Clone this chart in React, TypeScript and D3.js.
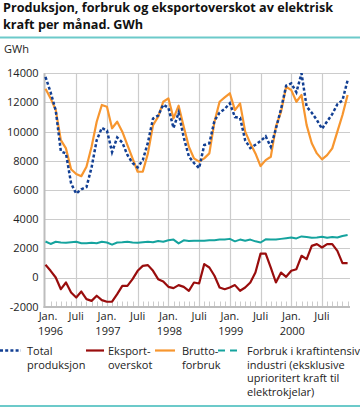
import React from "react";
import * as d3 from "d3";

const years = ["1996", "1997", "1998", "1999", "2000"];
const xLabels = ["Jan.", "Juli"];
const yTicks = [-2000, 0, 2000, 4000, 6000, 8000, 10000, 12000, 14000];

const totalProduksjon = [
  13750, 12700, 11450, 8650, 8500, 6450, 5750, 6050, 6200, 7550, 9420, 10250,
  10080, 8600, 9600, 9250, 8400, 7850, 7550, 8050, 9250, 10900, 11100, 11850,
  11640, 10250, 11300, 9600, 8300, 7850, 7500, 9080, 9200, 10750, 11300, 11560,
  11940, 11000, 10950, 9400, 8870, 9100, 9350, 9680, 8960, 10200, 11550, 13150,
  13310, 12700, 14000, 11710, 11300, 10800, 10200, 10700, 11200, 11880, 12150, 13520,
];

const eksportoverskot = [
  870, 460, 0, -800, -340, -1030, -1370, -960, -1480, -1600, -1250, -1550,
  -1660, -1660, -1140, -570, -570, -110, 460, 800, 850, 460, -110, -270,
  -640, -730, -520, -640, -910, -340, -410, 920, 685, 120, -685, -800,
  -685, -520, -910, -685, -340, 340, 1640, 1640, 685, -340, 340, 50,
  460, 570, 1490, 1260, 2170, 2290, 2060, 2290, 2290, 1830, 990, 990,
];

const bruttoforbruk = [
  12940, 12280, 11480, 9420, 8850, 7420, 7100, 6950, 7590, 8960, 10680, 11830,
  11710, 10230, 10680, 10000, 9080, 8170, 7250, 7250, 8510, 10450, 11020, 12050,
  12280, 10910, 11780, 10340, 8960, 8170, 7940, 8170, 8510, 10680, 12050, 12350,
  12630, 11480, 11940, 10000, 9200, 8510, 7640, 8050, 8280, 10340, 11370, 13080,
  12850, 12050, 12510, 10450, 9200, 8510, 8100, 8390, 8850, 10000, 11140, 12510,
];

const kraftintensiv = [
  2470, 2300, 2450, 2400, 2380, 2420, 2450, 2350, 2350, 2380, 2350, 2450,
  2400, 2250, 2400, 2420, 2450, 2400, 2380, 2420, 2450, 2420, 2500, 2450,
  2550, 2600, 2340, 2550, 2500, 2520, 2520, 2520, 2550, 2560, 2600, 2600,
  2650, 2480, 2600, 2520, 2600, 2480, 2400, 2620, 2600, 2600, 2650, 2700,
  2750, 2680, 2820, 2780, 2720, 2750, 2800, 2720, 2780, 2740, 2850, 2920,
];

const legendLabels = [
  ["Total", "produksjon"],
  ["Eksport-", "overskot"],
  ["Brutto-", "forbruk"],
  ["Forbruk i kraftintensiv", "industri (eksklusive", "uprioritert kraft til", "elektrokjelar)"],
];

const COLORS = {
  blue: "#123f93",
  red: "#990d0d",
  orange: "#f7962f",
  teal: "#15a39e",
  rule: "#6ccaca",
  grid: "#cccccc",
  axis: "#bdbdbd",
  text: "#222222",
};

const FONT = "'Open Sans', 'DejaVu Sans', sans-serif";
const TITLE_FONT = "'Liberation Sans Narrow', 'Open Sans', sans-serif";

export default function App() {
  const W = 360;
  const H = 409;
  const x = d3.scaleLinear().domain([0, 59]).range([45.5, 347.6]);
  const y = d3.scaleLinear().domain([-2000, 14000]).range([306.7, 73.3]);
  const xRight = 350;
  const months = d3.range(60);

  const line = d3
    .line<number>()
    .x((_, i) => x(i))
    .y((d) => y(d))
    .curve(d3.curveLinear);

  const majors = months.filter((m) => m % 6 === 0);
  const minors = months.filter((m) => m % 6 !== 0);

  const legendX = [
    { sx: 0, ex: 21, tx: 27 },
    { sx: 86, ex: 104, tx: 108 },
    { sx: 155, ex: 175, tx: 182 },
    { sx: 218, ex: 238, tx: 247 },
  ];
  const legendStyles = [
    { stroke: COLORS.blue, dash: "3,2.2", width: 2.5 },
    { stroke: COLORS.red, dash: undefined, width: 2.2 },
    { stroke: COLORS.orange, dash: undefined, width: 2.2 },
    { stroke: COLORS.teal, dash: "7,5", width: 2.2 },
  ];

  return (
    <svg width={W} height={H} style={{ position: "absolute", left: 0, top: 0 }} fontFamily={FONT}>
      <rect x={0} y={0} width={W} height={H} fill="#fff" />
      {/* title */}
      <text x={3} y={12} fontSize={12.5} fontWeight="bold" fill="#111" fontFamily={TITLE_FONT} textLength={330} lengthAdjust="spacingAndGlyphs">
        Produksjon, forbruk og eksportoverskot av elektrisk
      </text>
      <text x={3} y={28.5} fontSize={12.5} fontWeight="bold" fill="#111" fontFamily={TITLE_FONT} textLength={140} lengthAdjust="spacingAndGlyphs">
        kraft per månad. GWh
      </text>
      <rect x={0} y={36.5} width={W} height={2} fill={COLORS.rule} />
      <text x={4} y={53} fontSize={11} fill={COLORS.text}>GWh</text>

      {/* horizontal grid */}
      {yTicks.map((t) =>
        t === -2000 ? null : (
          <line key={"h" + t} x1={44} x2={xRight} y1={Math.round(y(t)) + 0.5} y2={Math.round(y(t)) + 0.5} stroke={COLORS.grid} strokeWidth={1.2} />
        )
      )}
      {/* vertical grid */}
      {majors.filter((m) => m > 0).map((m) => (
        <line key={"v" + m} x1={Math.round(x(m)) + 0.5} x2={Math.round(x(m)) + 0.5} y1={73} y2={307} stroke={COLORS.grid} strokeWidth={1.2} />
      ))}
      {/* minor ticks */}
      {minors.map((m) => (
        <line key={"t" + m} x1={Math.round(x(m)) + 0.5} x2={Math.round(x(m)) + 0.5} y1={301.5} y2={307} stroke={COLORS.grid} strokeWidth={1} />
      ))}
      {/* axes */}
      <line x1={44.5} x2={44.5} y1={73} y2={308} stroke={COLORS.axis} strokeWidth={2} />
      <line x1={43.5} x2={xRight} y1={307} y2={307} stroke={COLORS.axis} strokeWidth={2} />

      {/* y tick labels */}
      {yTicks.map((t) => (
        <text key={"yl" + t} x={38.5} y={y(t)} dy="0.36em" textAnchor="end" fontSize={11} fill={COLORS.text}>
          {t}
        </text>
      ))}
      {/* x labels */}
      {majors.map((m) => (
        <text key={"xl" + m} x={x(m) + (m === 0 ? 2.5 : 0)} y={320} textAnchor="middle" fontSize={11} fill={COLORS.text}>
          {m % 12 === 0 ? xLabels[0] : xLabels[1]}
        </text>
      ))}
      {majors.filter((m) => m % 12 === 0).map((m) => (
        <text key={"yr" + m} x={x(m) + (m === 0 ? 5 : 1)} y={335} textAnchor="middle" fontSize={11} fill={COLORS.text}>
          {years[m / 12]}
        </text>
      ))}

      {/* series */}
      <path d={line(kraftintensiv) || ""} fill="none" stroke={COLORS.teal} strokeWidth={2} strokeLinejoin="round" />
      <path d={line(eksportoverskot) || ""} fill="none" stroke={COLORS.red} strokeWidth={2.2} strokeLinejoin="round" />
      <path d={line(bruttoforbruk) || ""} fill="none" stroke={COLORS.orange} strokeWidth={2.2} strokeLinejoin="round" />
      <path d={line(totalProduksjon) || ""} fill="none" stroke={COLORS.blue} strokeWidth={2.5} strokeDasharray="3,2.2" />

      {/* legend */}
      {legendLabels.map((lines, i) => (
        <g key={"lg" + i}>
          <line x1={legendX[i].sx} x2={legendX[i].ex} y1={350.5} y2={350.5} stroke={legendStyles[i].stroke} strokeWidth={legendStyles[i].width} strokeDasharray={legendStyles[i].dash} />
          {lines.map((s, j) => (
            <text key={j} x={legendX[i].tx} y={355 + j * 13.5} fontSize={11} fill={COLORS.text}>
              {s}
            </text>
          ))}
        </g>
      ))}
      <rect x={0} y={405} width={W} height={2} fill={COLORS.rule} />
    </svg>
  );
}
